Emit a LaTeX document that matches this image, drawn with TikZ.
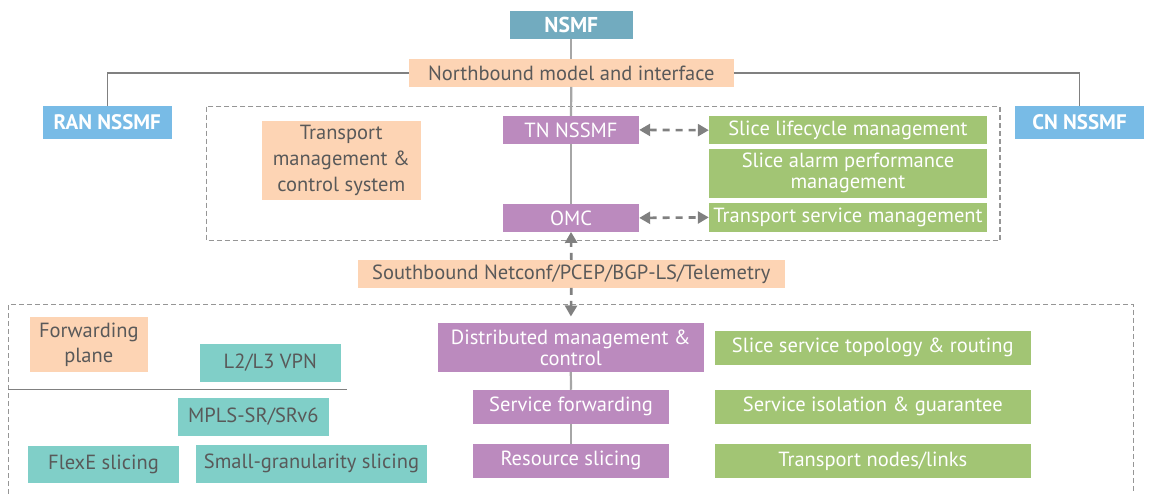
\documentclass[tikz,border=0pt]{standalone}
\usepackage{fontspec}
\setmainfont{PT Sans}
\usetikzlibrary{arrows.meta,backgrounds}
\definecolor{nsmfcol}{RGB}{114,171,191}
\definecolor{bluecol}{RGB}{120,187,230}
\definecolor{peachcol}{RGB}{253,212,180}
\definecolor{purplecol}{RGB}{187,138,190}
\definecolor{greencol}{RGB}{162,197,116}
\definecolor{tealcol}{RGB}{128,207,200}
\definecolor{darktext}{RGB}{89,89,89}
\definecolor{linegray}{RGB}{166,166,166}
\definecolor{darkline}{RGB}{128,128,128}
\definecolor{dashgray}{RGB}{150,150,150}
\definecolor{arrowgray}{RGB}{128,128,128}
\tikzset{
  sz/.style 2 args={minimum width=#1pt, minimum height=#2pt},
  bx/.style={rectangle, inner sep=0pt, align=center, font=\fontsize{20.5}{23}\selectfont},
  topbx/.style={bx, fill=nsmfcol, text=white, font=\fontsize{21.5}{24}\selectfont\bfseries},
  bluebx/.style={bx, fill=bluecol, text=white, font=\fontsize{21}{24}\selectfont\bfseries},
  peachbx/.style={bx, fill=peachcol, text=darktext},
  purplebx/.style={bx, fill=purplecol, text=white},
  greenbx/.style={bx, fill=greencol, text=white},
  tealbx/.style={bx, fill=tealcol, text=darktext},
  stem/.style={draw=linegray, line width=2.2pt},
  branch/.style={draw=darkline, line width=1.4pt},
  region/.style={draw=dashgray, line width=1.3pt, dash pattern=on 5pt off 3pt},
  dasharrow/.style={draw=arrowgray, line width=2.6pt, dash pattern=on 7pt off 6pt,
    arrows={-Triangle[length=11pt,width=12pt]}},
  dasharrows/.style={draw=arrowgray, line width=2.6pt, dash pattern=on 7pt off 6pt,
    arrows={Triangle[length=11pt,width=12pt]-Triangle[length=11pt,width=12pt]}}
}
\begin{document}
\begin{tikzpicture}[x=1pt,y=-1pt]
\useasboundingbox[fill=white] (0,0) rectangle (1149,494);
% regions
\draw[region] (206.7,106.7) rectangle (1000,240.7);
\draw[region] (8.3,494) -- (8.3,304.7) -- (1133.7,304.7) -- (1133.7,494);
% top
\node[topbx, sz={122.7}{27.7}] (nsmf) at (571.3,24.9) {NSMF};
\node[peachbx, sz={324.7}{27.7}] (nb) at (571.3,72.9) {Northbound model and interface};
\node[bluebx, sz={128.7}{32.7}] (ran) at (107.3,122.3) {RAN NSSMF};
\node[bluebx, sz={129}{32.7}] (cn) at (1079.5,122.3) {CN NSSMF};
% upper region
\node[peachbx, sz={158.7}{78.7}, font=\fontsize{20.5}{26}\selectfont] (tms) at (341.3,160.3) {Transport\\management \&\\control system};
\node[purplebx, sz={136}{27.7}] (tn) at (571,129.9) {TN NSSMF};
\node[purplebx, sz={136}{27.7}] (omc) at (571,217.9) {OMC};
\node[greenbx, sz={278}{28.3}] (slm) at (848,130.2) {Slice lifecycle management};
\node[greenbx, sz={278}{48.7}, font=\fontsize{20.5}{21}\selectfont] (sapm) at (848,173.3) {Slice alarm performance\\management};
\node[greenbx, sz={278}{28.7}] (tsm) at (848,217.4) {Transport service management};
% southbound
\node[peachbx, sz={426.7}{27.7}] (sb) at (571.3,273.9) {Southbound Netconf/PCEP/BGP-LS/Telemetry};
% lower region
\node[peachbx, sz={117.7}{54.7}, font=\fontsize{20.5}{25}\selectfont] (fp) at (88.8,344.3) {Forwarding\\plane};
\node[tealbx, sz={140.7}{37.7}] (l2l3) at (270.3,362.8) {L2/L3 VPN};
\coordinate (hl) at (8.3,389.7);
\coordinate (hr) at (346.7,389.7);
\node[tealbx, sz={150.7}{37.7}] (mpls) at (253.3,416.8) {MPLS-SR/SRv6};
\node[tealbx, sz={151}{37.3}] (flexe) at (103.5,464.7) {FlexE slicing};
\node[tealbx, sz={231}{37.7}] (sgs) at (311.5,463.8) {Small-granularity slicing};
\node[purplebx, sz={265.7}{48.4}, font=\fontsize{20.5}{21}\selectfont] (dmc) at (570.8,347.5) {Distributed management \&\\control};
\node[purplebx, sz={196}{33.7}] (sf) at (571,406.8) {Service forwarding};
\node[purplebx, sz={196}{33.7}] (rs) at (571,460.8) {Resource slicing};
\node[greenbx, sz={315.7}{33.7}] (ssr) at (872.8,347.8) {Slice service topology \& routing};
\node[greenbx, sz={315.7}{33.7}] (sig) at (872.8,406.8) {Service isolation \& guarantee};
\node[greenbx, sz={315.7}{33.7}] (tnl) at (872.8,460.8) {Transport nodes/links};
% connectors
\draw[stem] (nsmf.south) -- (nb.north);
\draw[stem] (nb.south) -- (tn.north);
\draw[stem] (tn.south) -- (omc.north);
\draw[branch] (nb.west) -| (ran.north);
\draw[branch] (nb.east) -| (cn.north);
\draw[dasharrows] (tn.east) -- (slm.west);
\draw[dasharrows] (omc.east) -- (tsm.west);
\draw[dasharrow] (sb.north) -- (omc.south);
\draw[dasharrow, shorten >=6.6pt] (sb.south) -- (dmc.north);
\draw[branch] (hl) -- (hr);
\draw[stem] (dmc.south) -- (sf.north);
\draw[stem] (sf.south) -- (rs.north);
\end{tikzpicture}
\end{document}
